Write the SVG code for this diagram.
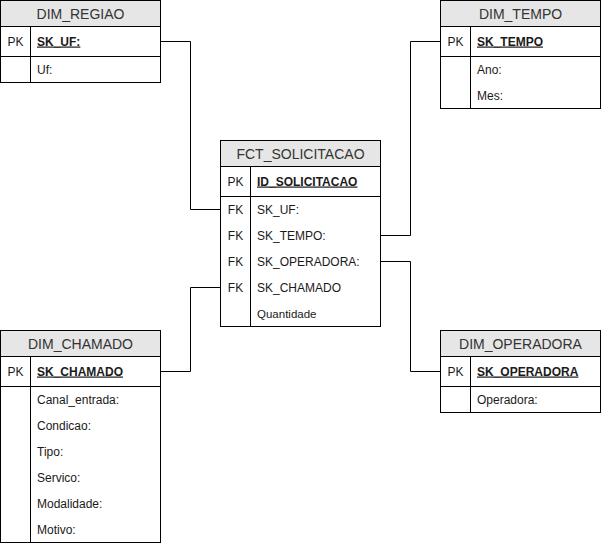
<svg xmlns="http://www.w3.org/2000/svg" width="601" height="546" viewBox="0 0 601 546">
<style>
.box{fill:#fff;stroke:#000;stroke-width:1}
.hdr{fill:#e6e6e6;stroke:#000;stroke-width:1}
.ln{stroke:#000;stroke-width:1;fill:none}
.t{font-family:"Liberation Sans",Arial,sans-serif;font-size:12px;fill:#1a1a1a}
.title{font-family:"Liberation Sans",Arial,sans-serif;font-size:14px;fill:#333;text-anchor:middle}
.key{font-weight:bold;text-decoration:underline}
.c{text-anchor:middle}
</style>
<rect width="601" height="546" fill="#fff"/>
<g id="connectors" class="ln">
<polyline points="160.5,41.5 190.5,41.5 190.5,209.5 220.5,209.5"/>
<polyline points="380.5,235.5 410.5,235.5 410.5,41.5 440.5,41.5"/>
<polyline points="380.5,261.5 410.5,261.5 410.5,371.5 440.5,371.5"/>
<polyline points="220.5,287.5 190.5,287.5 190.5,371.5 160.5,371.5"/>
</g>
<g id="DIM_REGIAO">
<rect class="box" x="0.5" y="0.5" width="160" height="82"/>
<rect class="hdr" x="0.5" y="0.5" width="160" height="26"/>
<line class="ln" x1="0.5" y1="56.5" x2="160.5" y2="56.5"/>
<line class="ln" x1="30.5" y1="26.5" x2="30.5" y2="82.5"/>
<text class="title" x="80.5" y="18.5">DIM_REGIAO</text>
<text class="t c" x="15.5" y="45.5">PK</text>
<text class="t key" x="37" y="45.5">SK_UF:</text>
<text class="t" x="37" y="73.5">Uf:</text>
</g>
<g id="DIM_TEMPO">
<rect class="box" x="440.5" y="0.5" width="160" height="108"/>
<rect class="hdr" x="440.5" y="0.5" width="160" height="26"/>
<line class="ln" x1="440.5" y1="56.5" x2="600.5" y2="56.5"/>
<line class="ln" x1="470.5" y1="26.5" x2="470.5" y2="108.5"/>
<text class="title" x="520.5" y="18.5">DIM_TEMPO</text>
<text class="t c" x="455.5" y="45.5">PK</text>
<text class="t key" x="477" y="45.5">SK_TEMPO</text>
<text class="t" x="477" y="73.5">Ano:</text>
<text class="t" x="477" y="99.5">Mes:</text>
</g>
<g id="FCT_SOLICITACAO">
<rect class="box" x="220.5" y="140.5" width="160" height="186"/>
<rect class="hdr" x="220.5" y="140.5" width="160" height="26"/>
<line class="ln" x1="220.5" y1="196.5" x2="380.5" y2="196.5"/>
<line class="ln" x1="250.5" y1="166.5" x2="250.5" y2="326.5"/>
<text class="title" x="300.5" y="158.5">FCT_SOLICITACAO</text>
<text class="t c" x="235.5" y="185.5">PK</text>
<text class="t key" x="257" y="185.5">ID_SOLICITACAO</text>
<text class="t c" x="235.5" y="213.5">FK</text>
<text class="t" x="257" y="213.5">SK_UF:</text>
<text class="t c" x="235.5" y="239.5">FK</text>
<text class="t" x="257" y="239.5">SK_TEMPO:</text>
<text class="t c" x="235.5" y="265.5">FK</text>
<text class="t" x="257" y="265.5">SK_OPERADORA:</text>
<text class="t c" x="235.5" y="291.5">FK</text>
<text class="t" x="257" y="291.5">SK_CHAMADO</text>
<text class="t" x="257" y="317.5" style="font-size:11.5px">Quantidade</text>
</g>
<g id="DIM_CHAMADO">
<rect class="box" x="0.5" y="330.5" width="160" height="212"/>
<rect class="hdr" x="0.5" y="330.5" width="160" height="26"/>
<line class="ln" x1="0.5" y1="386.5" x2="160.5" y2="386.5"/>
<line class="ln" x1="30.5" y1="356.5" x2="30.5" y2="542.5"/>
<text class="title" x="80.5" y="348.5">DIM_CHAMADO</text>
<text class="t c" x="15.5" y="375.5">PK</text>
<text class="t key" x="37" y="375.5">SK_CHAMADO</text>
<text class="t" x="37" y="403.5">Canal_entrada:</text>
<text class="t" x="37" y="429.5">Condicao:</text>
<text class="t" x="37" y="455.5">Tipo:</text>
<text class="t" x="37" y="481.5">Servico:</text>
<text class="t" x="37" y="507.5">Modalidade:</text>
<text class="t" x="37" y="533.5">Motivo:</text>
</g>
<g id="DIM_OPERADORA">
<rect class="box" x="440.5" y="330.5" width="160" height="82"/>
<rect class="hdr" x="440.5" y="330.5" width="160" height="26"/>
<line class="ln" x1="440.5" y1="386.5" x2="600.5" y2="386.5"/>
<line class="ln" x1="470.5" y1="356.5" x2="470.5" y2="412.5"/>
<text class="title" x="520.5" y="348.5">DIM_OPERADORA</text>
<text class="t c" x="455.5" y="375.5">PK</text>
<text class="t key" x="477" y="375.5">SK_OPERADORA</text>
<text class="t" x="477" y="403.5">Operadora:</text>
</g>
</svg>
